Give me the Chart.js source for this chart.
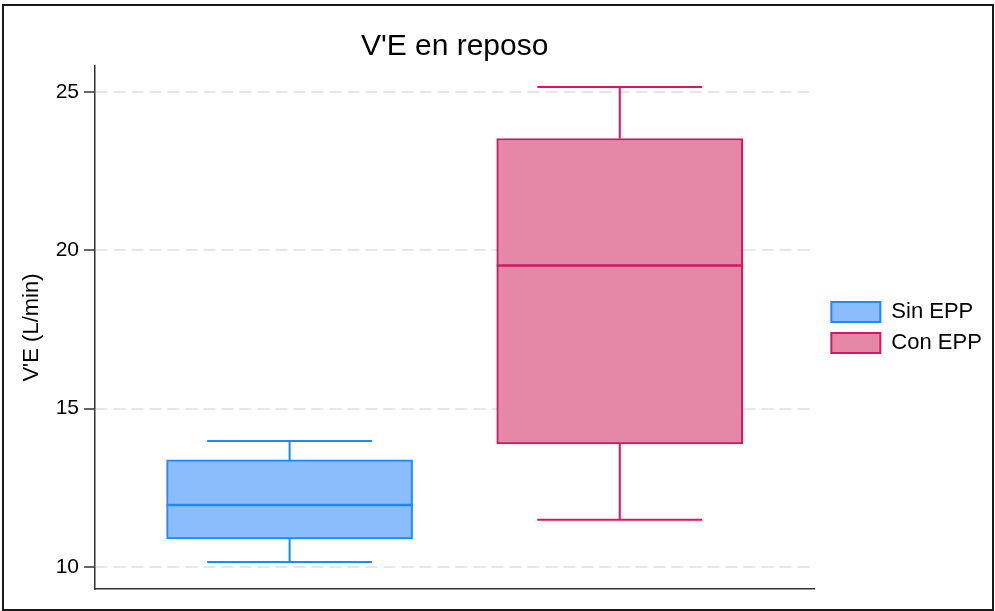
<!DOCTYPE html>
<html>
<head>
<meta charset="utf-8">
<script src="https://cdn.jsdelivr.net/npm/chart.js@4"></script>
<style>
  html, body { margin: 0; padding: 0; background: #fff; }
  #frame {
    position: absolute; left: 2px; top: 4px;
    width: 992px; height: 607px;
    border: 2px solid #1a1a1a; box-sizing: border-box;
  }
  #wrap { position: relative; width: 988px; height: 603px; }
</style>
</head>
<body>
<div id="frame"><div id="wrap"><canvas id="boxChart"></canvas></div></div>
<script>
const groups = ['Sin EPP', 'Con EPP'];
const whiskerLow = [10.16, 11.49];
const q1 = [10.89, 13.89];
const median = [11.96, 19.52];
const q3 = [13.38, 23.53];
const whiskerHigh = [13.98, 25.16];
const yTicks = [10, 15, 20, 25];

const strokeColors = ['#1e88ff', '#d6175f'];
const fillColors = ['#8bbcfc', '#e588a8'];

const FONT = "'Liberation Sans', Arial, sans-serif";
Chart.defaults.font.family = FONT;
Chart.defaults.color = '#000';

// whiskers, caps and medians, placed with the chart's own scales
const boxWhiskers = {
  id: 'boxWhiskers',
  afterDatasetsDraw(chart) {
    const ctx = chart.ctx;
    const y = chart.scales.y;
    groups.forEach((g, i) => {
      const bar = chart.getDatasetMeta(i).data[0];
      if (!bar) return;
      const { x, width } = bar.getProps(['x', 'width'], true);
      const cap = width * 0.335;
      ctx.save();
      ctx.strokeStyle = strokeColors[i];
      ctx.lineWidth = 2;
      ctx.beginPath();
      ctx.moveTo(x, y.getPixelForValue(whiskerHigh[i]));
      ctx.lineTo(x, y.getPixelForValue(q3[i]));
      ctx.moveTo(x, y.getPixelForValue(q1[i]));
      ctx.lineTo(x, y.getPixelForValue(whiskerLow[i]));
      ctx.moveTo(x - cap, y.getPixelForValue(whiskerHigh[i]));
      ctx.lineTo(x + cap, y.getPixelForValue(whiskerHigh[i]));
      ctx.moveTo(x - cap, y.getPixelForValue(whiskerLow[i]));
      ctx.lineTo(x + cap, y.getPixelForValue(whiskerLow[i]));
      ctx.stroke();
      ctx.lineWidth = 2.5;
      ctx.beginPath();
      ctx.moveTo(x - width / 2, y.getPixelForValue(median[i]));
      ctx.lineTo(x + width / 2, y.getPixelForValue(median[i]));
      ctx.stroke();
      ctx.restore();
    });
  }
};

new Chart(document.getElementById('boxChart'), {
  type: 'bar',
  data: {
    datasets: groups.map((g, i) => ({
      label: g,
      data: [{ x: i + 1, y: [q1[i], q3[i]] }],
      backgroundColor: fillColors[i],
      borderColor: strokeColors[i],
      borderWidth: 2,
      borderSkipped: false,
      barThickness: 246,
      grouped: false
    }))
  },
  options: {
    responsive: true,
    maintainAspectRatio: false,
    animation: false,
    layout: { padding: { left: 0, right: 6, top: 0, bottom: 20 } },
    plugins: {
      title: {
        display: true,
        text: "V'E en reposo",
        fullSize: false,
        color: '#000',
        font: { size: 30, weight: 'normal', family: FONT },
        padding: { top: 23, bottom: 1 }
      },
      legend: {
        position: 'right',
        fullSize: false,
        labels: {
          boxWidth: 49,
          boxHeight: 20,
          padding: 9,
          color: '#000',
          font: { size: 22, family: FONT }
        }
      },
      tooltip: { enabled: false }
    },
    scales: {
      x: {
        type: 'linear',
        offset: false,
        min: 0.4106,
        max: 2.5894,
        grid: { display: false },
        ticks: { display: false },
        border: { display: true, color: '#333', width: 1.5 },
        afterFit: s => { s.height = 0; }
      },
      y: {
        min: 9.305,
        max: 25.82,
        afterBuildTicks: s => { s.ticks = yTicks.map(v => ({ value: v })); },
        title: {
          display: true,
          text: "V'E (L/min)",
          color: '#000',
          font: { size: 22, family: FONT },
          padding: { top: 15, bottom: 0 }
        },
        ticks: {
          color: '#000',
          padding: 5,
          font: { size: 21, family: FONT }
        },
        grid: {
          color: '#e6e6e6',
          lineWidth: 2,
          tickLength: 11,
          tickColor: '#333',
          tickWidth: 1.5,
          tickBorderDash: []
        },
        border: { display: true, color: '#333', width: 1.5, dash: [12, 6] },
        afterFit: s => { s.width = 91; }
      },
      gap: {
        position: 'right',
        display: true,
        grid: { display: false },
        ticks: { display: false },
        border: { display: false },
        afterFit: s => { s.width = 8; }
      }
    }
  },
  plugins: [boxWhiskers]
});
</script>
</body>
</html>
